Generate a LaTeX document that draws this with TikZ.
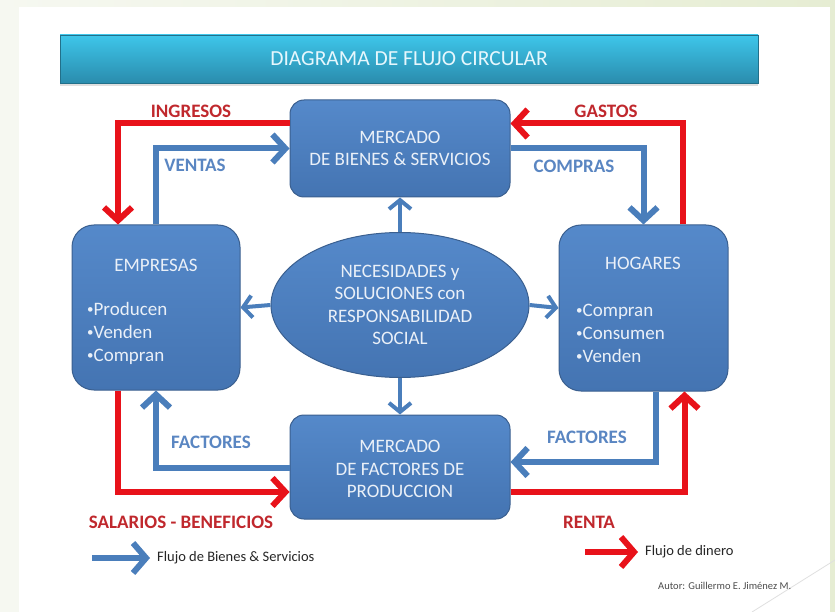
\documentclass[tikz,border=0pt]{standalone}
\usepackage{fontspec}
\setmainfont{Carlito}
\usetikzlibrary{arrows.meta,shapes.geometric,shadows}
\definecolor{boxtop}{HTML}{5589CA}
\definecolor{boxbot}{HTML}{4474B2}
\definecolor{boxedge}{HTML}{3A5F8F}
\definecolor{flowblue}{HTML}{4A7EBB}
\definecolor{flowred}{HTML}{E8121A}
\definecolor{lblred}{HTML}{C0282D}
\definecolor{lblblue}{HTML}{5A86C2}
\definecolor{boxtext}{HTML}{EAF0F8}
\definecolor{bgleft}{HTML}{F6F8F1}
\definecolor{bgright}{HTML}{E6EDD3}
\definecolor{titletop}{HTML}{3EC6EA}
\definecolor{titlebot}{HTML}{2A8CAD}
\newcommand\mybul{\raisebox{1.5pt}{\fontsize{13}{13}\selectfont•}}
\tikzset{
  blockbox/.style={rounded corners=14pt, top color=boxtop, bottom color=boxbot,
    draw=boxedge, line width=1pt, text=boxtext, align=center,
    font=\fontsize{19}{22.5}\selectfont, inner sep=0pt},
  boxtxt/.style={text=boxtext, font=\fontsize{19}{23}\selectfont, inner sep=0pt},
  redflow/.style={draw=flowred, line width=6pt,
    -{Straight Barb[length=13pt,width=28pt]}},
  blueflow/.style={draw=flowblue, line width=6pt,
    -{Straight Barb[length=13pt,width=28pt]}},
  smallflow/.style={draw=flowblue, line width=4pt,
    -{Straight Barb[length=9pt,width=22pt]}},
  redlbl/.style={text=lblred, font=\fontsize{19}{19}\bfseries\selectfont, inner sep=0pt},
  bluelbl/.style={text=lblblue, font=\fontsize{19}{19}\bfseries\selectfont, inner sep=0pt},
  legtxt/.style={text=black!85, font=\fontsize{14.5}{14.5}\selectfont, inner sep=0pt, anchor=west}
}
\begin{document}
\begin{tikzpicture}[x=1pt,y=-1pt]
% background
\useasboundingbox (0,0) rectangle (835,612);
\fill[bgleft] (0,0) rectangle (835,612);
\shade[left color=bgleft, right color=bgright] (0,0) rectangle (835,7);
\fill[bgright] (830,0) rectangle (835,612);
\fill[white] (19,7) rectangle (830,612);
\draw[black!12, line width=0.8pt] (752,612) -- (835,560);
% title
\node[top color=titletop, bottom color=titlebot, draw=titlebot!80!black, line width=0.6pt,
  drop shadow={opacity=0.25, shadow xshift=0pt, shadow yshift=-3pt},
  minimum width=698pt, minimum height=48pt, inner sep=0pt,
  text=white!90!cyan, font=\fontsize{21.5}{21.5}\selectfont] (title) at (409,59) {DIAGRAMA DE FLUJO CIRCULAR};
% boxes
\node[blockbox, minimum width=220pt, minimum height=97pt] (top) at (400,148.5) {MERCADO\\DE BIENES \& SERVICIOS};
\node[blockbox, minimum width=220pt, minimum height=104pt] (bot) at (400,467) {\\[-6pt]MERCADO\\DE FACTORES DE\\PRODUCCION};
\node[blockbox, rounded corners=22pt, minimum width=168pt, minimum height=165pt] (emp) at (156,307.5) {};
\node[blockbox, rounded corners=22pt, minimum width=169pt, minimum height=166pt] (hog) at (643.5,308) {};
\node[ellipse, top color=boxtop, bottom color=boxbot, draw=boxedge, line width=1pt,
  minimum width=258pt, minimum height=145pt, inner sep=0pt, text=boxtext, align=center,
  font=\fontsize{19}{22.5}\selectfont] (ell) at (400,305) {NECESIDADES y\\SOLUCIONES con\\RESPONSABILIDAD\\SOCIAL};
% box texts
\node[boxtxt] (empt) at (156,265) {EMPRESAS};
\node[boxtxt, anchor=west, align=left] (empl) at (87,333) {\mybul Producen\\\mybul Venden\\\mybul Compran};
\node[boxtxt] (hogt) at (643,263) {HOGARES};
\node[boxtxt, anchor=west, align=left] (hogl) at (576,333) {\mybul Compran\\\mybul Consumen\\\mybul Venden};
% center arrows
\draw[smallflow] (ell.north) -- (top.south);
\draw[smallflow] (ell.south) -- (bot.north);
\draw[smallflow] (ell.west) -- (emp.east);
\draw[smallflow] (ell.east) -- (hog.west);
% top flows
\draw[redflow] ([yshift=25pt]top.west) -| ([xshift=-38pt]emp.north);
\draw[blueflow] (emp.north) |- (top.west);
\draw[redflow] ([xshift=39pt]hog.north) |- ([yshift=25pt]top.east);
\draw[blueflow] (top.east) -| (hog.north);
% bottom flows
\draw[redflow] ([xshift=-38pt]emp.south) |- ([yshift=-25pt]bot.west);
\draw[blueflow] ([yshift=-1pt]bot.west) -| (emp.south);
\draw[blueflow] ([xshift=12pt]hog.south) |- ([yshift=5pt]bot.east);
\draw[redflow] ([yshift=-25pt]bot.east) -| ([xshift=41pt]hog.south);
% labels
\node[redlbl] (ingresos) at (191,111) {INGRESOS};
\node[bluelbl] (ventas) at (195,165) {VENTAS};
\node[redlbl] (gastos) at (606,111) {GASTOS};
\node[bluelbl] (compras) at (574,166) {COMPRAS};
\node[bluelbl] (factl) at (211,442) {FACTORES};
\node[bluelbl] (factr) at (587,437) {FACTORES};
\node[redlbl] (salarios) at (181,522) {SALARIOS - BENEFICIOS};
\node[redlbl] (renta) at (589,522) {RENTA};
% legend
\node[legtxt] (lgbt) at (157,558) {Flujo de Bienes \& Servicios};
\coordinate (lgb) at (92,558);
\draw[blueflow, -{Straight Barb[length=13pt,width=30pt]}] (lgb) -- ([xshift=-7pt]lgbt.west);
\node[legtxt] (lgrt) at (645,552) {Flujo de dinero};
\coordinate (lgr) at (585,552);
\draw[redflow, -{Straight Barb[length=13pt,width=30pt]}] (lgr) -- ([xshift=-7pt]lgrt.west);
\node[legtxt, text=black!70, font=\fontsize{10.5}{10.5}\selectfont] (autor) at (658,586) {Autor: Guillermo E. Jiménez M.};
\end{tikzpicture}
\end{document}
